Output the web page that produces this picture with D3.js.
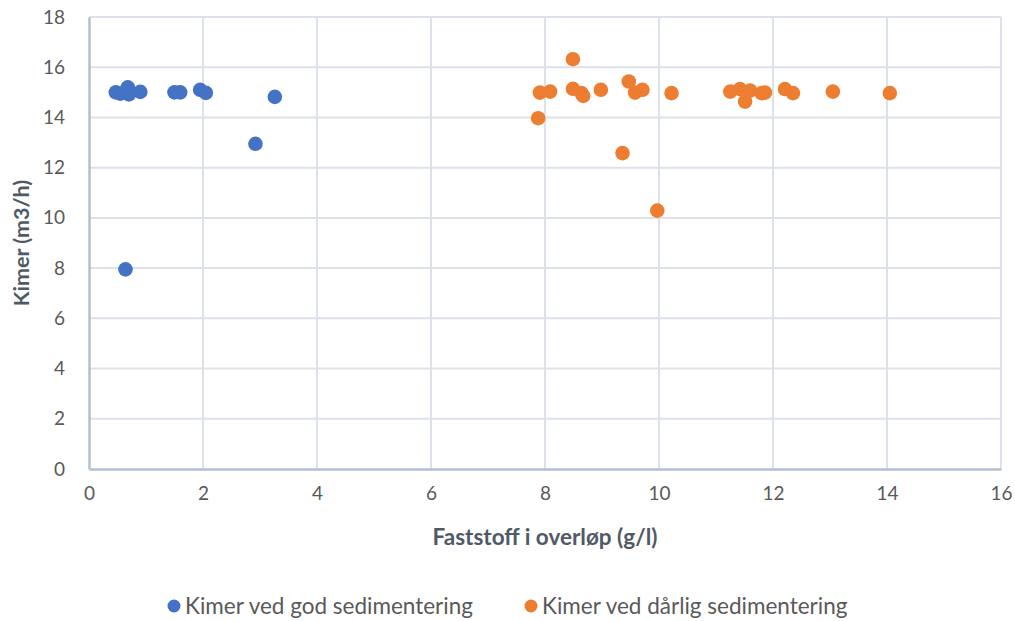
<!DOCTYPE html>
<html>
<head>
<meta charset="utf-8">
<script src="https://cdn.jsdelivr.net/npm/d3@7/dist/d3.min.js"></script>
<style>
  html, body { margin: 0; padding: 0; background: #ffffff; }
  svg { display: block; }
  text { font-family: Lato, "Open Sans", "Liberation Sans", sans-serif; }
</style>
</head>
<body>
<svg id="chart" width="1015" height="621"></svg>
<script>
// Solids in overflow (g/l) and flow (m3/h) for good settling
const goodX = [0.47, 0.55, 0.68, 0.70, 0.90, 1.50, 1.60, 1.95, 2.05, 2.92, 3.26, 0.64];
const goodY = [15.0, 14.95, 15.2, 14.92, 15.02, 15.0, 15.0, 15.1, 14.98, 12.95, 14.82, 7.95];

// Solids in overflow (g/l) and flow (m3/h) for poor settling
const poorX = [7.88, 7.91, 8.09, 8.49, 8.49, 8.64, 8.67, 8.98, 9.47, 9.58, 9.71, 10.22,
               9.36, 9.97, 11.25, 11.42, 11.60, 11.51, 11.80, 11.86, 12.21, 12.35, 13.05, 14.05];
const poorY = [13.97, 14.99, 15.03, 16.32, 15.14, 14.97, 14.86, 15.10, 15.43, 14.99, 15.10, 14.97,
               12.58, 10.29, 15.03, 15.13, 15.07, 14.63, 14.97, 14.99, 15.13, 14.97, 15.03, 14.97];

const xTicks = [0, 2, 4, 6, 8, 10, 12, 14, 16];
const yTicks = [0, 2, 4, 6, 8, 10, 12, 14, 16, 18];

const seriesNames = ["Kimer ved god sedimentering", "Kimer ved dårlig sedimentering"];
const seriesColors = ["#4472C4", "#ED7D31"];
const xTitle = "Faststoff i overløp (g/l)";
const yTitle = "Kimer (m3/h)";

const svg = d3.select("#chart");
const plot = { left: 89, right: 1001, top: 17, bottom: 469 };

const x = d3.scaleLinear().domain([0, 16]).range([plot.left, plot.right]);
const y = d3.scaleLinear().domain([0, 18]).range([plot.bottom, plot.top]);

const gridColor = "#dde2ea";
const axisColor = "#b4bfcf";
const labelColor = "#595959";
const titleColor = "#505a66";

// Grid lines
svg.append("g").selectAll("line.v").data(xTicks.slice(1)).join("line")
  .attr("x1", d => x(d)).attr("x2", d => x(d))
  .attr("y1", plot.top).attr("y2", plot.bottom)
  .attr("stroke", gridColor).attr("stroke-width", 2);
svg.append("g").selectAll("line.h").data(yTicks.slice(1)).join("line")
  .attr("x1", plot.left).attr("x2", plot.right)
  .attr("y1", d => y(d)).attr("y2", d => y(d))
  .attr("stroke", gridColor).attr("stroke-width", 2);

// Axes
const xAxis = d3.axisBottom(x).tickValues(xTicks).tickSize(0).tickPadding(18);
const gx = svg.append("g").attr("transform", `translate(0,${plot.bottom})`).call(xAxis);
gx.select(".domain").attr("stroke", axisColor).attr("stroke-width", 2.5);
gx.selectAll("text").attr("fill", labelColor).attr("font-size", 19).style("font-family", "Lato, sans-serif");

const yAxis = d3.axisLeft(y).tickValues(yTicks).tickSize(0).tickPadding(24);
const gy = svg.append("g").attr("transform", `translate(${plot.left},0)`).call(yAxis);
gy.select(".domain").attr("stroke", axisColor).attr("stroke-width", 2.5);
gy.selectAll("text").attr("fill", labelColor).attr("font-size", 19).style("font-family", "Lato, sans-serif");

// Axis titles
svg.append("text")
  .attr("x", x(8)).attr("y", 545)
  .attr("text-anchor", "middle")
  .attr("font-size", 22.5).attr("font-weight", "bold")
  .attr("fill", titleColor)
  .text(xTitle);
svg.append("text")
  .attr("transform", `translate(29,${(plot.top + plot.bottom) / 2}) rotate(-90)`)
  .attr("text-anchor", "middle")
  .attr("font-size", 21.5).attr("font-weight", "bold")
  .attr("fill", titleColor)
  .text(yTitle);

// Points
const good = goodX.map((v, i) => [v, goodY[i]]);
const poor = poorX.map((v, i) => [v, poorY[i]]);

svg.append("g").selectAll("circle").data(good).join("circle")
  .attr("cx", d => x(d[0])).attr("cy", d => y(d[1])).attr("r", 7.3)
  .attr("fill", seriesColors[0]);
svg.append("g").selectAll("circle").data(poor).join("circle")
  .attr("cx", d => x(d[0])).attr("cy", d => y(d[1])).attr("r", 7.3)
  .attr("fill", seriesColors[1]);

// Legend
const legendPos = [174, 531];
const legend = svg.append("g");
seriesNames.forEach((name, i) => {
  legend.append("circle")
    .attr("cx", legendPos[i]).attr("cy", 606).attr("r", 6.5)
    .attr("fill", seriesColors[i]);
  legend.append("text")
    .attr("x", legendPos[i] + 11).attr("y", 613.5)
    .attr("font-size", 22.5)
    .attr("fill", labelColor)
    .text(name);
});
</script>
</body>
</html>
